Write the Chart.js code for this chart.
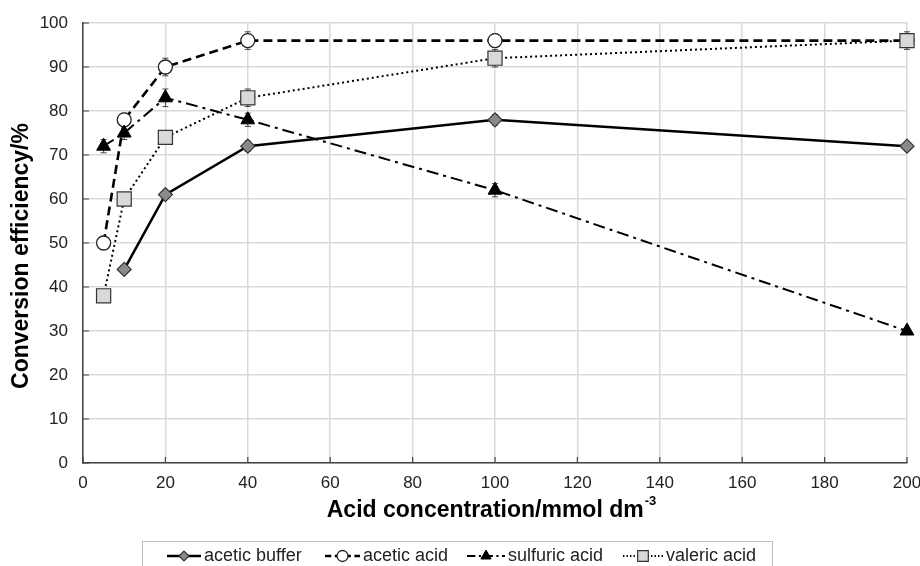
<!DOCTYPE html>
<html><head><meta charset="utf-8">
<script src="https://cdn.jsdelivr.net/npm/chart.js@4/dist/chart.umd.min.js"></script>
<style>html,body{margin:0;padding:0;background:#fff}#wrap{width:920px;height:566px}</style>
</head><body><div id="wrap"><canvas id="c" width="920" height="566"></canvas></div>
<script>
const xTicks = [0,20,40,60,80,100,120,140,160,180,200];
const yTicks = [0,10,20,30,40,50,60,70,80,90,100];
const bufferX = [10,20,40,100,200];
const bufferY = [44,61,72,78,72];
const bufferErr = [0.8,0.8,1.2,1.2,0.8];
const aceticX = [5,10,20,40,100,200];
const aceticY = [50,78,90,96,96,96];
const aceticErr = [0.8,1.5,2,2,1.5,1.5];
const sulfX = [5,10,20,40,100,200];
const sulfY = [72,75,83,78,62,30];
const sulfErr = [1.5,1.5,2,1.5,1.5,0.8];
const valX = [5,10,20,40,100,200];
const valY = [38,60,74,83,92,96];
const valErr = [0.8,1,1.5,2,2,2];
const seriesNames = ['acetic buffer','acetic acid','sulfuric acid','valeric acid'];
const xTitle = 'Acid concentration/mmol dm';
const xTitleSup = '-3';
const yTitle = 'Conversion efficiency/%';

function pts(xs, ys){ return xs.map((x,i)=>({x:x,y:ys[i]})); }
const FONT = "'Liberation Sans', Arial, sans-serif";

const datasets = [
 {label:seriesNames[0], order:4, data:pts(bufferX,bufferY), err:bufferErr, borderColor:'#000', borderWidth:2.5, borderDash:[],
  pointStyle:'rectRot', pointRadius:7, pointBackgroundColor:'#8a8a8a', pointBorderColor:'#333', pointBorderWidth:1.2, legendRadius:5},
 {label:seriesNames[1], order:3, data:pts(aceticX,aceticY), err:aceticErr, borderColor:'#000', borderWidth:2.6, borderDash:[9,5],
  pointStyle:'circle', pointRadius:7, pointBackgroundColor:'#fff', pointBorderColor:'#222', pointBorderWidth:1.3, legendRadius:5.5},
 {label:seriesNames[2], order:2, data:pts(sulfX,sulfY), err:sulfErr, borderColor:'#000', borderWidth:2, borderDash:[12,5,3,5],
  pointStyle:'triangle', pointRadius:8, pointBackgroundColor:'#000', pointBorderColor:'#000', pointBorderWidth:1, legendRadius:6},
 {label:seriesNames[3], order:1, data:pts(valX,valY), err:valErr, borderColor:'#000', borderWidth:2, borderDash:[2,3],
  pointStyle:'rect', pointRadius:10, pointBackgroundColor:'#d9d9d9', pointBorderColor:'#333', pointBorderWidth:1.2, legendRadius:7.5}
];
datasets.forEach(d=>{ d.fill=false; d.tension=0; d.clip=false; d.pointHoverRadius=d.pointRadius; });

const errorBars = {
 id:'errorBars',
 beforeDatasetsDraw(chart){
  const ctx=chart.ctx, xs=chart.scales.x, ys=chart.scales.y;
  ctx.save(); ctx.strokeStyle='#444'; ctx.lineWidth=1;
  chart.data.datasets.forEach(d=>{
   d.data.forEach((p,i)=>{
    const e=d.err[i]; const px=xs.getPixelForValue(p.x);
    const y1=ys.getPixelForValue(p.y+e), y2=ys.getPixelForValue(p.y-e);
    ctx.beginPath(); ctx.moveTo(px,y1); ctx.lineTo(px,y2);
    ctx.moveTo(px-3,y1); ctx.lineTo(px+3,y1); ctx.moveTo(px-3,y2); ctx.lineTo(px+3,y2); ctx.stroke();
   });
  });
  ctx.restore();
 }
};

const decor = {
 id:'decor',
 afterDraw(chart){
  const ctx=chart.ctx, xs=chart.scales.x, ys=chart.scales.y, a=chart.chartArea;
  ctx.save();
  ctx.strokeStyle='#444'; ctx.lineWidth=1.2;
  ctx.beginPath();
  yTicks.forEach(v=>{const y=ys.getPixelForValue(v); ctx.moveTo(a.left,y); ctx.lineTo(a.left+6,y);});
  xTicks.forEach(v=>{const x=xs.getPixelForValue(v); ctx.moveTo(x,a.bottom); ctx.lineTo(x,a.bottom-6);});
  ctx.stroke();
  ctx.fillStyle='#000';
  ctx.font='bold 23px '+FONT;
  ctx.textAlign='center'; ctx.textBaseline='middle';
  ctx.save(); ctx.translate(22,256); ctx.rotate(-Math.PI/2); ctx.fillText(yTitle,0,0); ctx.restore();
  ctx.font='bold 23px '+FONT;
  const w1=ctx.measureText(xTitle).width;
  ctx.font='bold 13px '+FONT;
  const w2=ctx.measureText(xTitleSup).width;
  const cx=491; const sx=cx-(w1+w2)/2;
  ctx.textAlign='left'; ctx.textBaseline='alphabetic';
  ctx.font='bold 23px '+FONT; ctx.fillText(xTitle,sx,517);
  ctx.font='bold 13px '+FONT; ctx.fillText(xTitleSup,sx+w1+1,505);
  ctx.strokeStyle='#bfbfbf'; ctx.lineWidth=1;
  ctx.strokeRect(142.5,541.5,630,30);
  const pos=[[167,203],[325,362],[467,507],[623,665]];
  ctx.font='18px '+FONT; ctx.textBaseline='middle';
  chart.data.datasets.forEach((d,i)=>{
   const [l0,t0]=pos[i]; const yy=556; const l1=t0-2;
   ctx.save(); ctx.strokeStyle='#000'; ctx.lineWidth=d.borderWidth;
   ctx.setLineDash(d.borderDash.length? d.borderDash.map(v=>v*0.7):[]);
   ctx.beginPath(); ctx.moveTo(l0,yy); ctx.lineTo(l1,yy); ctx.stroke(); ctx.restore();
   ctx.save(); ctx.fillStyle=d.pointBackgroundColor; ctx.strokeStyle=d.pointBorderColor; ctx.lineWidth=d.pointBorderWidth;
   Chart.helpers.drawPoint(ctx,{pointStyle:d.pointStyle,radius:d.legendRadius,borderWidth:d.pointBorderWidth,rotation:0},(l0+l1)/2,yy);
   ctx.restore();
   ctx.fillStyle='#222'; ctx.textAlign='left'; ctx.fillText(d.label,t0+1,yy);
  });
  ctx.restore();
 }
};

new Chart(document.getElementById('c'),{
 type:'line',
 data:{datasets:datasets},
 options:{
  responsive:false, animation:false,
  layout:{padding:{top:23,right:13,left:0,bottom:0}},
  plugins:{legend:{display:false},tooltip:{enabled:false}},
  scales:{
   x:{type:'linear',min:0,max:200,
      afterBuildTicks(s){ s.ticks=xTicks.map(v=>({value:v})); },
      afterFit(s){ s.height=103; s.paddingLeft=0; s.paddingRight=0; },
      grid:{color:'#d9d9d9',lineWidth:1.5,drawTicks:false},
      border:{color:'#444',width:1.5},
      ticks:{padding:10,color:'#222',font:{family:FONT,size:17},maxRotation:0}},
   y:{type:'linear',min:0,max:100,
      afterBuildTicks(s){ s.ticks=yTicks.map(v=>({value:v})); },
      afterFit(s){ s.width=83; s.paddingTop=0; s.paddingBottom=0; },
      grid:{color:'#d9d9d9',lineWidth:1.5,drawTicks:false},
      border:{color:'#444',width:1.5},
      ticks:{padding:15,color:'#222',font:{family:FONT,size:17}}}
  }
 },
 plugins:[errorBars,decor]
});
</script></body></html>
